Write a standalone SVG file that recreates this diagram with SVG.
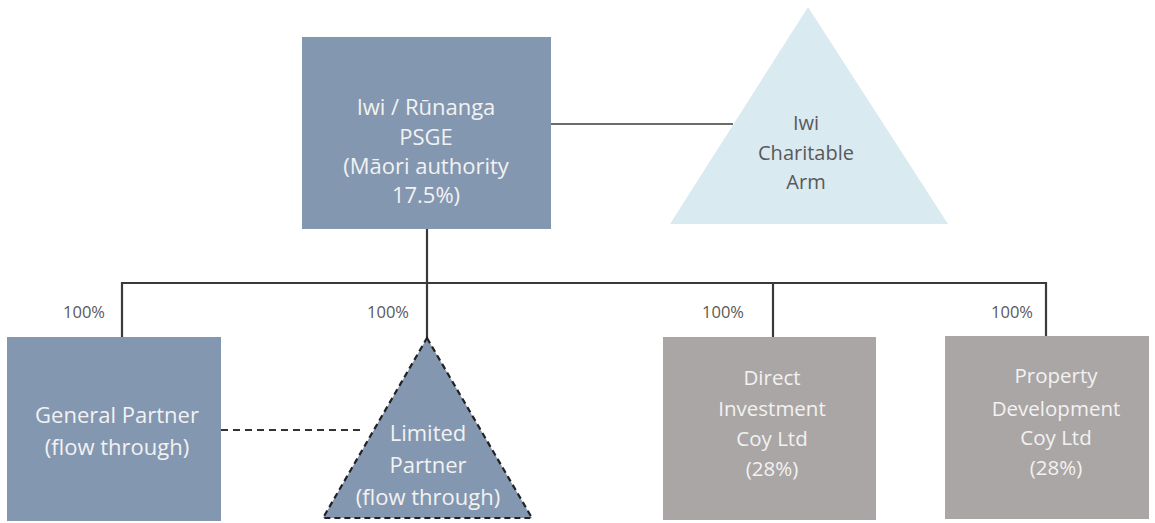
<svg xmlns="http://www.w3.org/2000/svg" width="1155" height="523" viewBox="0 0 1155 523">
  <style>
    .blue { fill: #8497b0; }
    .grey { fill: #aaa6a5; }
    .light { fill: #d9eaf1; }
    .lbl { font-family: "Open Sans", "Liberation Sans", sans-serif; text-anchor: middle; }
    .w { fill: #f2f2f2; font-size: 22px; }
    .ws { fill: #f2f2f2; font-size: 20.5px; }
    .d { fill: #595959; font-size: 20px; }
    .pct { fill: #595959; font-size: 16.5px; font-family: "Open Sans", "Liberation Sans", sans-serif; text-anchor: middle; }
    .link { stroke: #3a3a3a; stroke-width: 2.2; fill: none; }
    .thin { stroke: #3a3a3a; stroke-width: 1.6; fill: none; }
    .dash { stroke: #333333; stroke-width: 2; fill: none; stroke-dasharray: 7 5; }
  </style>

  <!-- connectors -->
  <g id="connectors">
    <line class="thin" x1="551" y1="124" x2="733" y2="124"/>
    <line class="link" x1="427" y1="229" x2="427" y2="338"/>
    <polyline class="link" points="122,337 122,283 1046,283 1046,336"/>
    <line class="link" x1="773" y1="283" x2="773" y2="337"/>
    <line class="dash" x1="221" y1="430" x2="364" y2="430"/>
  </g>

  <!-- percentage labels -->
  <g id="labels">
    <text class="pct" x="84" y="318">100%</text>
    <text class="pct" x="388" y="318">100%</text>
    <text class="pct" x="723" y="318">100%</text>
    <text class="pct" x="1012" y="318">100%</text>
  </g>

  <g id="iwi-runanga">
    <rect class="blue" x="302" y="37" width="249" height="192"/>
    <text class="lbl w" x="426" y="115">Iwi / Rūnanga</text>
    <text class="lbl w" x="426" y="145">PSGE</text>
    <text class="lbl w" x="426" y="174">(Māori authority</text>
    <text class="lbl w" x="426" y="203">17.5%)</text>
  </g>

  <g id="charitable-arm">
    <polygon class="light" points="808,7 948,224 670,224"/>
    <text class="lbl d" x="806" y="130" font-size="21">Iwi</text>
    <text class="lbl d" x="806" y="160">Charitable</text>
    <text class="lbl d" x="806" y="189">Arm</text>
  </g>

  <g id="general-partner">
    <rect class="blue" x="7" y="337" width="214" height="184"/>
    <text class="lbl w" x="117" y="423">General Partner</text>
    <text class="lbl w" x="117" y="455">(flow through)</text>
  </g>

  <g id="limited-partner">
    <polygon class="blue" points="427,338 532,518 323,518" stroke="#222222" stroke-width="2.2" stroke-dasharray="6 4"/>
    <text class="lbl w" x="428" y="441">Limited</text>
    <text class="lbl w" x="428" y="473">Partner</text>
    <text class="lbl w" x="428" y="505">(flow through)</text>
  </g>

  <g id="direct-investment">
    <rect class="grey" x="663" y="337" width="213" height="183"/>
    <text class="lbl ws" x="772" y="385">Direct</text>
    <text class="lbl ws" x="772" y="416">Investment</text>
    <text class="lbl ws" x="772" y="446">Coy Ltd</text>
    <text class="lbl ws" x="772" y="476">(28%)</text>
  </g>

  <g id="property-development">
    <rect class="grey" x="945" y="336" width="204" height="183"/>
    <text class="lbl ws" x="1056" y="383">Property</text>
    <text class="lbl ws" x="1056" y="416">Development</text>
    <text class="lbl ws" x="1056" y="445">Coy Ltd</text>
    <text class="lbl ws" x="1056" y="475">(28%)</text>
  </g>
</svg>
